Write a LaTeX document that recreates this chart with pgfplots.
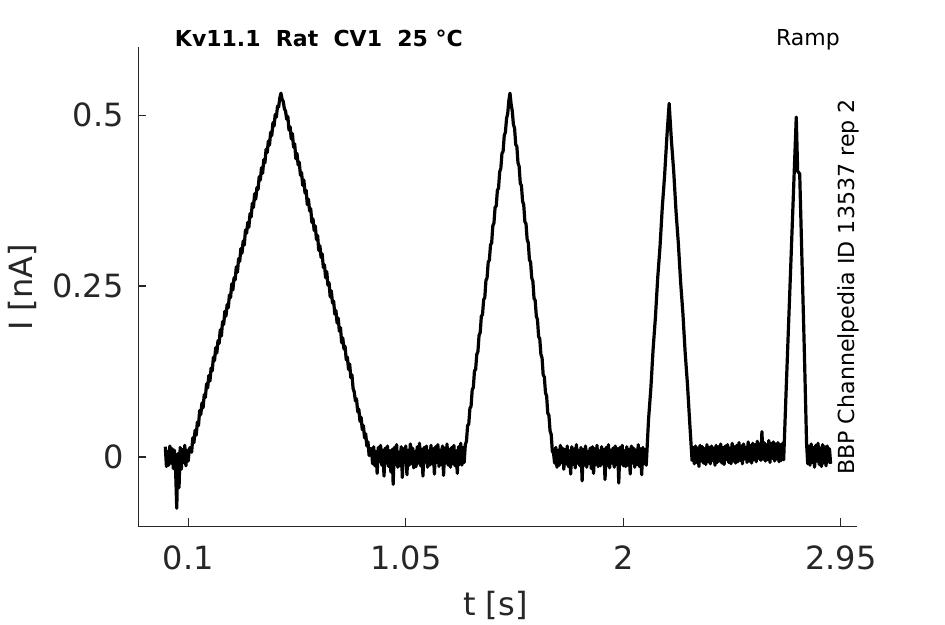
\documentclass[border=0pt]{standalone}
\usepackage{fontspec}
\setmainfont{DejaVu Sans}
\usepackage{pgfplots}
\pgfplotsset{compat=1.18}
\definecolor{axgray}{HTML}{262626}
\begin{document}
\begin{tikzpicture}
\begin{axis}[
  scale only axis,
  width=538.8pt, height=359.5pt,
  xmin=-0.118, xmax=3.019,
  ymin=-0.101, ymax=0.6,
  axis x line*=bottom, axis y line*=left,
  axis line style={-, line width=0.8pt, axgray},
  tick style={line width=0.8pt, axgray},
  tick align=inside,
  major tick length=6pt,
  xtick={0.1,1.05,2,2.95}, xticklabels={0.1,1.05,2,2.95},
  ytick={0,0.25,0.5}, yticklabels={0,0.25,0.5},
  /pgf/number format/assume math mode=true,
  ticklabel style={font=\fontsize{24}{28}\selectfont, text=axgray},
  xticklabel style={yshift=-11pt},
  yticklabel style={xshift=-7.5pt},
  clip=false,
]
\addplot[black, line width=2.4pt, line join=round] table {
0.000 0.015
0.005 -0.014
0.010 0.008
0.015 -0.012
0.020 0.016
0.025 -0.009
0.030 0.012
0.035 -0.017
0.040 0.010
0.045 -0.020
0.050 -0.075
0.055 0.005
0.060 -0.045
0.065 0.014
0.070 -0.018
0.075 0.011
0.080 -0.008
0.085 0.017
0.090 -0.013
0.095 0.009
0.100 -0.006
0.105 0.012
0.110 0.014
0.115 0.007
0.120 0.028
0.125 0.021
0.130 0.039
0.135 0.032
0.140 0.051
0.145 0.046
0.150 0.068
0.155 0.062
0.160 0.079
0.165 0.072
0.170 0.091
0.175 0.087
0.180 0.107
0.185 0.101
0.190 0.119
0.195 0.111
0.200 0.130
0.205 0.126
0.210 0.146
0.215 0.141
0.220 0.160
0.225 0.152
0.230 0.170
0.235 0.166
0.240 0.186
0.245 0.177
0.250 0.198
0.255 0.194
0.260 0.213
0.265 0.206
0.270 0.223
0.275 0.218
0.280 0.237
0.285 0.233
0.290 0.253
0.295 0.244
0.300 0.262
0.305 0.259
0.310 0.278
0.315 0.270
0.320 0.290
0.325 0.286
0.330 0.305
0.335 0.298
0.340 0.316
0.345 0.310
0.350 0.332
0.355 0.327
0.360 0.343
0.365 0.336
0.370 0.356
0.375 0.351
0.380 0.371
0.385 0.365
0.390 0.385
0.395 0.377
0.400 0.394
0.405 0.391
0.410 0.410
0.415 0.405
0.420 0.423
0.425 0.415
0.430 0.435
0.435 0.430
0.440 0.450
0.445 0.445
0.450 0.462
0.455 0.456
0.460 0.475
0.465 0.470
0.470 0.489
0.475 0.484
0.480 0.501
0.485 0.497
0.490 0.513
0.495 0.512
0.500 0.525
0.505 0.532
0.510 0.523
0.515 0.520
0.520 0.509
0.525 0.506
0.530 0.494
0.535 0.498
0.540 0.478
0.545 0.483
0.550 0.465
0.555 0.473
0.560 0.453
0.565 0.458
0.570 0.436
0.575 0.444
0.580 0.427
0.585 0.431
0.590 0.412
0.595 0.416
0.600 0.397
0.605 0.405
0.610 0.386
0.615 0.390
0.620 0.369
0.625 0.377
0.630 0.360
0.635 0.363
0.640 0.343
0.645 0.348
0.650 0.331
0.655 0.338
0.660 0.318
0.665 0.324
0.670 0.302
0.675 0.309
0.680 0.292
0.685 0.297
0.690 0.277
0.695 0.281
0.700 0.262
0.705 0.271
0.710 0.251
0.715 0.255
0.720 0.234
0.725 0.243
0.730 0.225
0.735 0.228
0.740 0.209
0.745 0.214
0.750 0.196
0.755 0.203
0.760 0.184
0.765 0.189
0.770 0.167
0.775 0.174
0.780 0.158
0.785 0.162
0.790 0.142
0.795 0.146
0.800 0.128
0.805 0.136
0.810 0.116
0.815 0.120
0.820 0.100
0.825 0.095
0.830 0.082
0.835 0.085
0.840 0.066
0.845 0.070
0.850 0.052
0.855 0.058
0.860 0.040
0.865 0.046
0.870 0.028
0.875 0.034
0.880 0.016
0.885 0.022
0.890 0.002
0.895 0.012
0.900 0.012
0.905 -0.010
0.910 0.015
0.915 -0.013
0.920 0.008
0.925 -0.024
0.930 0.014
0.935 -0.007
0.940 0.017
0.945 -0.012
0.950 0.010
0.955 -0.028
0.960 0.013
0.965 -0.009
0.970 0.016
0.975 -0.014
0.980 0.009
0.985 -0.022
0.990 0.011
0.995 -0.040
1.000 0.014
1.005 -0.011
1.010 0.018
1.015 -0.015
1.020 0.007
1.025 -0.013
1.030 0.015
1.035 -0.030
1.040 0.012
1.045 -0.008
1.050 0.016
1.055 -0.026
1.060 0.010
1.065 -0.012
1.070 0.019
1.075 -0.010
1.080 0.013
1.085 -0.016
1.090 0.008
1.095 -0.014
1.100 0.015
1.105 -0.009
1.110 0.020
1.115 -0.013
1.120 0.011
1.125 -0.028
1.130 0.014
1.135 -0.007
1.140 0.016
1.145 -0.015
1.150 0.009
1.155 -0.012
1.160 0.017
1.165 -0.010
1.170 0.012
1.175 -0.025
1.180 0.015
1.185 -0.008
1.190 0.018
1.195 -0.014
1.200 0.010
1.205 -0.011
1.210 0.016
1.215 -0.027
1.220 0.013
1.225 -0.009
1.230 0.019
1.235 -0.012
1.240 0.011
1.245 -0.015
1.250 0.014
1.255 -0.010
1.260 0.017
1.265 -0.013
1.270 0.009
1.275 -0.024
1.280 0.015
1.285 -0.011
1.290 0.020
1.295 -0.012
1.300 0.014
1.305 -0.008
1.310 0.018
1.315 0.023
1.320 0.046
1.325 0.048
1.330 0.071
1.335 0.074
1.340 0.098
1.345 0.102
1.350 0.126
1.355 0.128
1.360 0.150
1.365 0.154
1.370 0.178
1.375 0.182
1.380 0.206
1.385 0.208
1.390 0.230
1.395 0.233
1.400 0.258
1.405 0.262
1.410 0.285
1.415 0.288
1.420 0.310
1.425 0.313
1.430 0.338
1.435 0.342
1.440 0.365
1.445 0.367
1.450 0.390
1.455 0.393
1.460 0.417
1.465 0.422
1.470 0.444
1.475 0.447
1.480 0.470
1.485 0.475
1.490 0.495
1.495 0.502
1.500 0.521
1.505 0.532
1.510 0.516
1.515 0.506
1.520 0.486
1.525 0.481
1.530 0.457
1.535 0.454
1.540 0.430
1.545 0.425
1.550 0.400
1.555 0.397
1.560 0.374
1.565 0.369
1.570 0.344
1.575 0.341
1.580 0.318
1.585 0.313
1.590 0.288
1.595 0.285
1.600 0.262
1.605 0.257
1.610 0.232
1.615 0.229
1.620 0.206
1.625 0.201
1.630 0.176
1.635 0.173
1.640 0.150
1.645 0.145
1.650 0.120
1.655 0.117
1.660 0.094
1.665 0.089
1.670 0.064
1.675 0.061
1.680 0.038
1.685 0.033
1.690 0.008
1.695 0.006
1.700 -0.009
1.705 0.014
1.710 -0.015
1.715 0.010
1.720 -0.012
1.725 0.017
1.730 -0.008
1.735 0.013
1.740 -0.018
1.745 0.011
1.750 -0.010
1.755 0.016
1.760 -0.014
1.765 0.009
1.770 -0.025
1.775 0.015
1.780 -0.011
1.785 0.012
1.790 -0.016
1.795 0.018
1.800 -0.009
1.805 0.010
1.810 -0.013
1.815 0.014
1.820 -0.035
1.825 0.011
1.830 -0.012
1.835 0.016
1.840 -0.015
1.845 0.008
1.850 -0.010
1.855 0.013
1.860 -0.017
1.865 0.015
1.870 -0.024
1.875 0.012
1.880 -0.011
1.885 0.017
1.890 -0.014
1.895 0.009
1.900 -0.013
1.905 0.015
1.910 -0.010
1.915 0.011
1.920 -0.033
1.925 0.014
1.930 -0.012
1.935 0.018
1.940 -0.016
1.945 0.010
1.950 -0.009
1.955 0.013
1.960 -0.015
1.965 0.016
1.970 -0.011
1.975 0.012
1.980 -0.038
1.985 0.014
1.990 -0.010
1.995 0.017
2.000 -0.013
2.005 0.009
2.010 -0.014
2.015 0.015
2.020 -0.012
2.025 0.011
2.030 -0.025
2.035 0.016
2.040 -0.009
2.045 0.013
2.050 -0.015
2.055 0.010
2.060 -0.011
2.065 0.018
2.070 -0.014
2.075 0.012
2.080 -0.026
2.085 0.014
2.090 -0.010
2.095 0.011
2.100 -0.012
2.110 0.055
2.120 0.100
2.130 0.158
2.140 0.204
2.150 0.262
2.160 0.307
2.170 0.365
2.180 0.411
2.190 0.468
2.200 0.517
2.210 0.462
2.220 0.417
2.230 0.359
2.240 0.313
2.250 0.256
2.260 0.210
2.270 0.152
2.280 0.106
2.290 0.049
2.300 -0.005
2.305 0.014
2.310 -0.010
2.315 0.016
2.320 -0.008
2.325 0.013
2.330 -0.014
2.335 0.017
2.340 -0.006
2.345 0.015
2.350 -0.009
2.355 0.012
2.360 -0.011
2.365 0.018
2.370 -0.007
2.375 0.014
2.380 -0.010
2.385 0.016
2.390 -0.005
2.395 0.013
2.400 -0.012
2.405 0.017
2.410 -0.008
2.415 0.015
2.420 -0.006
2.425 0.019
2.430 -0.009
2.435 0.014
2.440 -0.011
2.445 0.016
2.450 -0.004
2.455 0.018
2.460 -0.008
2.465 0.013
2.470 -0.010
2.475 0.020
2.480 -0.006
2.485 0.015
2.490 -0.009
2.495 0.017
2.500 -0.007
2.505 0.021
2.510 -0.005
2.515 0.016
2.520 -0.010
2.525 0.019
2.530 -0.003
2.535 0.014
2.540 -0.008
2.545 0.022
2.550 -0.006
2.555 0.017
2.560 -0.009
2.565 0.020
2.570 -0.004
2.575 0.018
2.580 -0.007
2.585 0.023
2.590 -0.002
2.595 0.019
2.600 -0.005
2.605 0.037
2.610 -0.003
2.615 0.021
2.620 -0.006
2.625 0.018
2.630 -0.004
2.635 0.024
2.640 -0.008
2.645 0.020
2.650 -0.002
2.655 0.022
2.660 -0.006
2.665 0.019
2.670 -0.003
2.675 0.021
2.680 -0.007
2.685 0.018
2.690 -0.005
2.695 0.020
2.700 -0.004
2.710 0.090
2.720 0.181
2.730 0.271
2.740 0.362
2.750 0.452
2.755 0.497
2.761 0.418
2.770 0.414
2.780 0.286
2.790 0.158
2.800 0.020
2.805 -0.010
2.810 0.016
2.815 -0.012
2.820 0.019
2.825 -0.008
2.830 0.014
2.835 -0.015
2.840 0.017
2.845 -0.006
2.850 0.020
2.855 -0.011
2.860 0.013
2.865 -0.014
2.870 0.018
2.875 -0.009
2.880 0.015
2.885 -0.013
2.890 0.016
2.895 -0.007
2.900 0.012
2.905 -0.010
};
\node[anchor=base west, font=\fontsize{16.5}{20}\selectfont\bfseries, text=black] at (axis description cs:0.0445,1.0) {Kv11.1\ \ Rat\ \ CV1\ \ 25 °C};
\node[anchor=base east, font=\fontsize{16.5}{20}\selectfont, text=black] at (axis description cs:0.983,1.0015) {Ramp};
\node[rotate=90, anchor=center, font=\fontsize{16.6}{20}\selectfont, text=black] at (axis description cs:0.988,0.4987) {BBP Channelpedia ID 13537 rep 2};
\node[rotate=90, anchor=center, font=\fontsize{24}{28}\selectfont, text=axgray] at (axis description cs:-0.1612,0.4976) {I [nA]};
\node[anchor=center, font=\fontsize{24}{28}\selectfont, text=axgray] at (axis description cs:0.4972,-0.1655) {t [s]};
\end{axis}
\pgfresetboundingbox
\path[use as bounding box] ([xshift=-103.7pt,yshift=-73.5pt]current axis.south west) rectangle ([xshift=66.2pt,yshift=35.0pt]current axis.north east);
\end{tikzpicture}
\end{document}
